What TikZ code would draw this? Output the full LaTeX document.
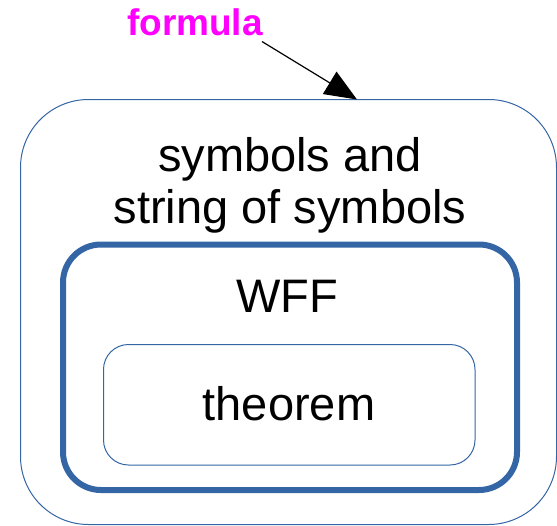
\documentclass[tikz,border=0pt]{standalone}
\usepackage{fontspec}
\setmainfont{Liberation Sans}
\usetikzlibrary{arrows.meta}
\definecolor{boxblue}{HTML}{3465A4}
\definecolor{tagpink}{HTML}{FF00FF}
\begin{document}
\begin{tikzpicture}[x=1pt,y=-1pt,
    outerbox/.style={draw=boxblue,line width=1pt,rounded corners=68pt,
        inner sep=0pt,minimum width=536pt,minimum height=425pt},
    wffbox/.style={draw=boxblue,line width=6pt,rounded corners=38pt,
        inner sep=0pt,minimum width=454pt,minimum height=245.5pt},
    thmbox/.style={draw=boxblue,line width=1pt,rounded corners=25pt,
        inner sep=0pt,minimum width=371.5pt,minimum height=120.5pt},
    lbl/.style={font=\fontsize{47}{52}\selectfont,inner sep=0pt},
    tag/.style={font=\fontsize{37}{40}\selectfont\bfseries,text=tagpink,inner sep=2pt}
]
    \useasboundingbox (0,0) rectangle (557,525);

    \node[outerbox] (sym) at (288.5,312) {};
    \node[wffbox] (wff) at (290,367.25) {};
    \node[thmbox] (thm) at (289.25,404.75) {};

    \node[lbl,align=center] (symtext) at (290,185) {symbols and\\string of symbols};
    \node[lbl,anchor=base] (wfftext) at (287,312) {WFF};
    \node[lbl,anchor=base] (thmtext) at (289,420) {theorem};

    \node[tag,anchor=base] (formula) at (195,35) {formula};
    \coordinate (tip) at (357,99.5);
    \draw[line width=1.2pt,-{Triangle[length=32pt,width=26pt]}]
        ([xshift=-3pt,yshift=-4pt]formula.south east) -- (tip);
\end{tikzpicture}
\end{document}
